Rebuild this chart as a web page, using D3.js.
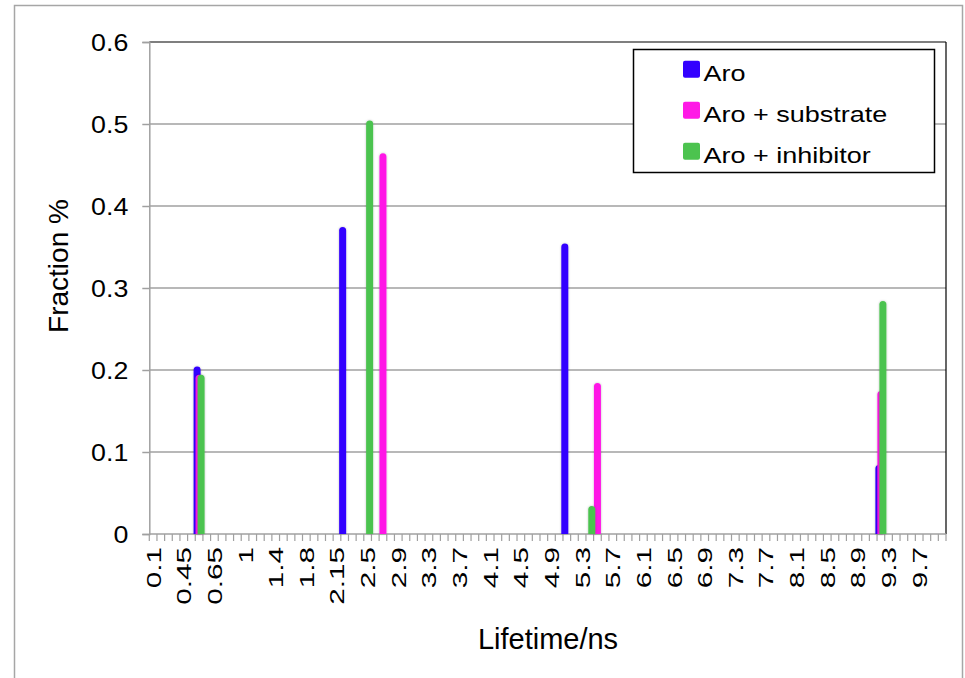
<!DOCTYPE html>
<html>
<head>
<meta charset="utf-8">
<script src="https://cdn.jsdelivr.net/npm/d3@7/dist/d3.min.js"></script>
<style>
  html, body { margin: 0; padding: 0; background: #fff; }
  svg { display: block; font-family: "Liberation Sans", Arial, sans-serif; }
</style>
</head>
<body>
<svg id="chart" width="965" height="678"></svg>
<script>
// ---- data ----
const categories = [0.1,0.2,0.3,0.4,0.45,0.5,0.55,0.6,0.65,0.7,0.8,0.9,
  1,1.1,1.2,1.3,1.4,1.5,1.6,1.7,1.8,1.9,2,2.1,2.15,2.2,2.3,2.4,2.5,2.6,2.7,2.8,2.9,
  3,3.1,3.2,3.3,3.4,3.5,3.6,3.7,3.8,3.9,4,4.1,4.2,4.3,4.4,4.5,4.6,4.7,4.8,4.9,
  5,5.1,5.2,5.3,5.4,5.5,5.6,5.7,5.8,5.9,6,6.1,6.2,6.3,6.4,6.5,6.6,6.7,6.8,6.9,
  7,7.1,7.2,7.3,7.4,7.5,7.6,7.7,7.8,7.9,8,8.1,8.2,8.3,8.4,8.5,8.6,8.7,8.8,8.9,
  9,9.1,9.2,9.3,9.4,9.5,9.6,9.7,9.8,9.9,10];
const xTickLabels = ["0.1","0.45","0.65","1","1.4","1.8","2.15","2.5","2.9","3.3","3.7","4.1","4.5",
  "4.9","5.3","5.7","6.1","6.5","6.9","7.3","7.7","8.1","8.5","8.9","9.3","9.7"];
const yTicks = [0, 0.1, 0.2, 0.3, 0.4, 0.5, 0.6];

const seriesNames = ["Aro", "Aro + substrate", "Aro + inhibitor"];
const seriesColors = ["#3300ff", "#ff19e6", "#4cc34f"];

const aroLifetimes = [0.55, 2.2, 5.1, 9.2];
const aroValues    = [0.20, 0.37, 0.35, 0.08];
const subLifetimes = [0.55, 2.7, 5.5, 9.2];
const subValues    = [0.19, 0.46, 0.18, 0.17];
const inhLifetimes = [0.55, 2.5, 5.4, 9.2];
const inhValues    = [0.19, 0.50, 0.03, 0.28];

(function () {
const series = [
  {name: seriesNames[0], color: seriesColors[0], lifetimes: aroLifetimes, values: aroValues},
  {name: seriesNames[1], color: seriesColors[1], lifetimes: subLifetimes, values: subValues},
  {name: seriesNames[2], color: seriesColors[2], lifetimes: inhLifetimes, values: inhValues}
];

// ---- layout ----
const svg = d3.select("#chart");
const pL = 149.3, pR = 946, pT = 42, pB = 534;
const FONT = "'Liberation Sans', Arial, sans-serif";

const x = d3.scaleBand().domain(categories.map(String)).range([pL, pR]).padding(0);
const y = d3.scaleLinear().domain([0, 0.6]).range([pB, pT]);
const bw = x.bandwidth();

// outer border
svg.append("rect").attr("x", 14.5).attr("y", 5.5).attr("width", 948).attr("height", 690)
  .attr("fill", "none").attr("stroke", "#a6a6a6").attr("stroke-width", 1.5);

// shadow filter
const defs = svg.append("defs");
const f = defs.append("filter").attr("id", "sh").attr("x", "-50%").attr("y", "-10%").attr("width", "200%").attr("height", "120%");
f.append("feDropShadow").attr("dx", 0).attr("dy", 0).attr("stdDeviation", 1.2)
  .attr("flood-color", "#000").attr("flood-opacity", 0.25);

// gridlines
const grid = svg.append("g");
yTicks.filter(t => t > 0 && t < 0.6).forEach(t => {
  grid.append("line").attr("x1", pL).attr("x2", pR).attr("y1", y(t)).attr("y2", y(t))
    .attr("stroke", "#a0a0a0").attr("stroke-width", 1.5);
});
// top and right border (black)
svg.append("line").attr("x1", pL).attr("x2", pR).attr("y1", y(0.6)).attr("y2", y(0.6))
  .attr("stroke", "#000").attr("stroke-width", 1.2);
svg.append("line").attr("x1", pR).attr("x2", pR).attr("y1", y(0.6)).attr("y2", y(0))
  .attr("stroke", "#000").attr("stroke-width", 1.2);

// y axis
const yAxis = d3.axisLeft(y).tickValues(yTicks).tickSize(7).tickPadding(14)
  .tickFormat(d => String(+d.toFixed(1)));
const gy = svg.append("g").attr("transform", `translate(${pL},0)`).call(yAxis);
gy.select(".domain").attr("stroke", "#a0a0a0").attr("stroke-width", 1.5);
gy.selectAll(".tick line").attr("stroke", "#a0a0a0").attr("stroke-width", 1.5);
gy.selectAll(".tick text").attr("font-family", FONT).attr("font-size", 23.5).attr("fill", "#000")
  .attr("dy", "0.36em")
  .attr("transform", function() {
    const tx = +d3.select(this).attr("x");
    return `translate(${tx},0) scale(1.14,1) translate(${-tx},0)`;
  });

// x axis (category ticks at boundaries)
const gx = svg.append("g");
gx.append("line").attr("x1", pL).attr("x2", pR).attr("y1", pB).attr("y2", pB)
  .attr("stroke", "#a0a0a0").attr("stroke-width", 1.5);
const boundaries = categories.map(c => x(String(c))).concat([x.range()[1]]);
gx.selectAll("line.tk").data(boundaries).join("line").attr("class", "tk")
  .attr("x1", d => d).attr("x2", d => d).attr("y1", pB).attr("y2", pB + 7)
  .attr("stroke", "#a0a0a0").attr("stroke-width", 1.2);
const labelCats = categories.filter(c => xTickLabels.includes(String(c)));
gx.selectAll("text.xl").data(labelCats).join("text").attr("class", "xl")
  .attr("transform", d => `translate(${x(String(d)) + bw / 2 + 7.5},547) rotate(-90) scale(1.45,1)`)
  .attr("text-anchor", "end").attr("font-family", FONT).attr("font-size", 20.5).attr("fill", "#000")
  .text(d => String(d));

// bars (rounded-cap sticks; cap extends half a bar width above the value)
const offsets = [-2, 0, 2];
const barW = 7;
function barPath(cx, yVal) {
  const r = barW / 2;
  const yTop = yVal - r;
  const x0 = cx - r, x1 = cx + r;
  const p = d3.path();
  p.moveTo(x0, pB);
  p.lineTo(x0, yTop + r);
  p.arc(cx, yTop + r, r, Math.PI, 2 * Math.PI);
  p.lineTo(x1, pB);
  p.closePath();
  return p.toString();
}
const gb = svg.append("g");
series.forEach((s, si) => {
  const data = s.lifetimes.map((l, i) => ({l, v: s.values[i]}));
  gb.append("g").selectAll("path").data(data).join("path")
    .attr("d", d => barPath(x(String(d.l)) + bw / 2 + offsets[si], y(d.v)))
    .attr("fill", s.color).attr("filter", "url(#sh)");
});

// axis titles
svg.append("text").attr("x", 548).attr("y", 649).attr("text-anchor", "middle")
  .attr("font-family", FONT).attr("font-size", 29).text("Lifetime/ns");
svg.append("text").attr("transform", "translate(68,266) rotate(-90)").attr("text-anchor", "middle")
  .attr("font-family", FONT).attr("font-size", 28).text("Fraction %");

// legend
const lg = svg.append("g");
lg.append("rect").attr("x", 633.5).attr("y", 49.5).attr("width", 301).attr("height", 123)
  .attr("fill", "#fff").attr("stroke", "#000").attr("stroke-width", 1.5);
const baselines = [80.7, 121.7, 162.7];
series.forEach((s, i) => {
  lg.append("rect").attr("x", 683).attr("y", baselines[i] - 20).attr("width", 17).attr("height", 17)
    .attr("rx", 2).attr("fill", s.color);
  lg.append("text").attr("transform", `translate(703.5,${baselines[i]}) scale(1.2,1)`)
    .attr("font-family", FONT).attr("font-size", 22.5).attr("fill", "#000").text(s.name);
});
})();
</script>
</body>
</html>
